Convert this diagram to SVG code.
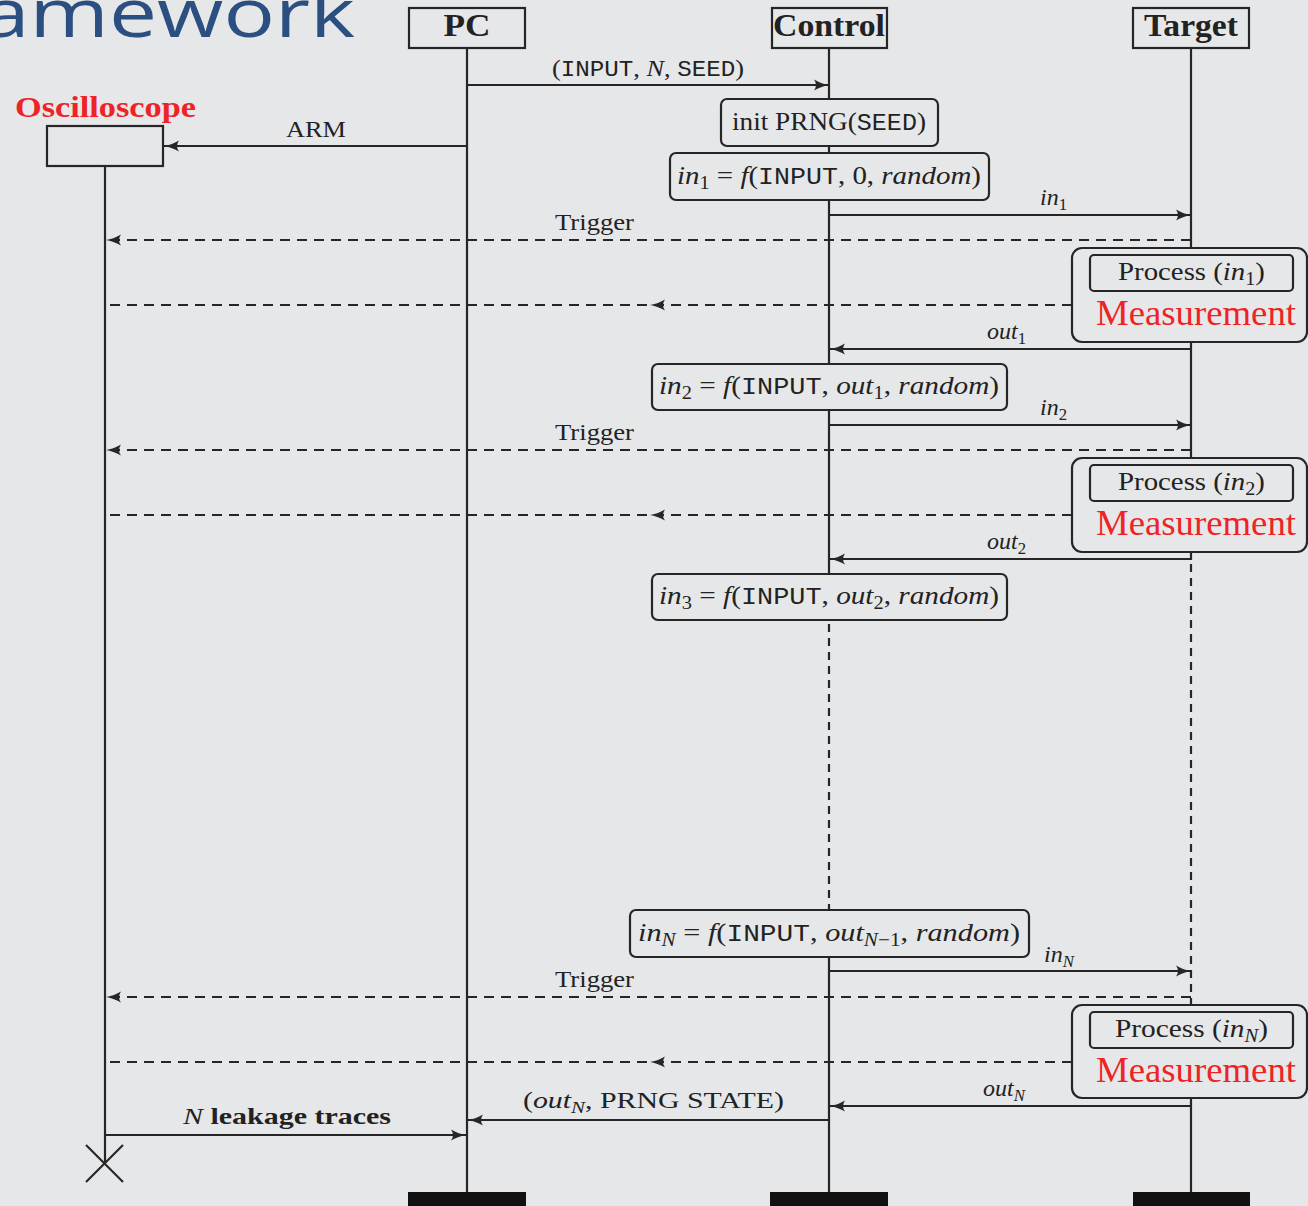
<svg xmlns="http://www.w3.org/2000/svg" width="1308" height="1206" viewBox="0 0 1308 1206">
<style>
.bg{fill:#e6e7e9}
.ln{stroke:#262626;stroke-width:2.2;fill:none}
.dl{stroke:#262626;stroke-width:2.2;fill:none;stroke-dasharray:10,7}
.dv{stroke:#262626;stroke-width:2.2;fill:none;stroke-dasharray:8,6}
.box{fill:#e6e7e9;stroke:#262626;stroke-width:2.2}
.t{font-family:"Liberation Serif","DejaVu Serif",serif;font-size:26px;fill:#222}
.lb{font-family:"Liberation Serif","DejaVu Serif",serif;font-size:24px;fill:#222}
.hd{font-family:"Liberation Serif","DejaVu Serif",serif;font-size:31px;font-weight:bold;fill:#222}
.ms{font-family:"Liberation Serif","DejaVu Serif",serif;font-size:35px;fill:#ee2326}
.osc{font-family:"Liberation Serif","DejaVu Serif",serif;font-size:30px;font-weight:bold;fill:#ee2326}
.b{font-weight:bold}
.i{font-style:italic}
.m{font-family:"Liberation Mono","DejaVu Sans Mono",monospace;font-size:0.92em}
.s{font-size:0.7em}
.title{font-family:"Open Sans","Noto Sans",sans-serif;font-size:68px;fill:#2a4f80}
</style>
<defs>
<marker id="ah" markerWidth="16" markerHeight="12" refX="15" refY="6" orient="auto" markerUnits="userSpaceOnUse">
<path d="M0,0.5 Q8,5 15,6 Q8,7 0,11.5 Q4,6 0,0.5z" fill="#262626"/>
</marker>
</defs>
<rect class="bg" x="0" y="0" width="1308" height="1206"/>
<text class="title" x="-18" y="37" textLength="373" lengthAdjust="spacingAndGlyphs">amework</text>

<g id="lifelines">
<line class="ln" x1="105" y1="166" x2="105" y2="1163"/>
<line class="ln" x1="467" y1="48" x2="467" y2="1192"/>
<line class="ln" x1="829" y1="48" x2="829" y2="620"/>
<line class="dv" x1="829" y1="624" x2="829" y2="910"/>
<line class="ln" x1="829" y1="957" x2="829" y2="1192"/>
<line class="ln" x1="1191" y1="48" x2="1191" y2="560"/>
<line class="dv" x1="1191" y1="564" x2="1191" y2="1005"/>
<line class="ln" x1="1191" y1="1098" x2="1191" y2="1192"/>
</g>

<g id="connectors">
<line class="ln" x1="467" y1="85" x2="829" y2="85" marker-end="url(#ah)"/>
<line class="ln" x1="467" y1="146" x2="164" y2="146" marker-end="url(#ah)"/>
<line class="ln" x1="829" y1="215" x2="1191" y2="215" marker-end="url(#ah)"/>
<line class="dl" x1="1191" y1="240" x2="106" y2="240" marker-end="url(#ah)"/>
<path class="dl" d="M1072,305 L650,305 L105,305" marker-mid="url(#ah)"/>
<line class="ln" x1="1191" y1="349" x2="830" y2="349" marker-end="url(#ah)"/>
<line class="ln" x1="829" y1="425" x2="1191" y2="425" marker-end="url(#ah)"/>
<line class="dl" x1="1191" y1="450" x2="106" y2="450" marker-end="url(#ah)"/>
<path class="dl" d="M1072,515 L650,515 L105,515" marker-mid="url(#ah)"/>
<line class="ln" x1="1191" y1="559" x2="830" y2="559" marker-end="url(#ah)"/>
<line class="ln" x1="829" y1="971" x2="1191" y2="971" marker-end="url(#ah)"/>
<line class="dl" x1="1191" y1="997" x2="106" y2="997" marker-end="url(#ah)"/>
<path class="dl" d="M1072,1062 L650,1062 L105,1062" marker-mid="url(#ah)"/>
<line class="ln" x1="1191" y1="1106" x2="830" y2="1106" marker-end="url(#ah)"/>
<line class="ln" x1="829" y1="1120" x2="468" y2="1120" marker-end="url(#ah)"/>
<line class="ln" x1="105" y1="1135" x2="466" y2="1135" marker-end="url(#ah)"/>
</g>

<g id="connector-labels">
<text class="lb" x="552" y="76" textLength="192" lengthAdjust="spacingAndGlyphs">(<tspan class="m">INPUT</tspan>, <tspan class="i">N</tspan>, <tspan class="m">SEED</tspan>)</text>
<text class="lb" x="286" y="137" textLength="60" lengthAdjust="spacingAndGlyphs">ARM</text>
<text class="lb" x="1040" y="205"><tspan class="i">in</tspan><tspan class="s" dy="5">1</tspan></text>
<text class="lb" x="555" y="230" textLength="79" lengthAdjust="spacingAndGlyphs">Trigger</text>
<text class="lb" x="987" y="339"><tspan class="i">out</tspan><tspan class="s" dy="5">1</tspan></text>
<text class="lb" x="1040" y="415"><tspan class="i">in</tspan><tspan class="s" dy="5">2</tspan></text>
<text class="lb" x="555" y="440" textLength="79" lengthAdjust="spacingAndGlyphs">Trigger</text>
<text class="lb" x="987" y="549"><tspan class="i">out</tspan><tspan class="s" dy="5">2</tspan></text>
<text class="lb" x="1044" y="962"><tspan class="i">in</tspan><tspan class="s i" dy="5">N</tspan></text>
<text class="lb" x="555" y="987" textLength="79" lengthAdjust="spacingAndGlyphs">Trigger</text>
<text class="lb" x="983" y="1096"><tspan class="i">out</tspan><tspan class="s i" dy="5">N</tspan></text>
<text class="lb" x="523" y="1108" textLength="261" lengthAdjust="spacingAndGlyphs">(<tspan class="i">out</tspan><tspan class="s i" dy="5">N</tspan><tspan dy="-5">,  PRNG STATE)</tspan></text>
<text class="lb b" x="183" y="1124" textLength="208" lengthAdjust="spacingAndGlyphs"><tspan class="i" font-weight="normal">N</tspan> leakage traces</text>
</g>

<g id="osc">
<text class="osc" x="15" y="117" textLength="181" lengthAdjust="spacingAndGlyphs">Oscilloscope</text>
<rect class="box" x="47" y="126" width="116" height="40"/>
<line class="ln" x1="86" y1="1145" x2="123" y2="1182"/>
<line class="ln" x1="123" y1="1145" x2="86" y2="1182"/>
</g>

<g id="pc">
<rect class="box" x="409" y="8" width="116" height="40"/>
<text class="hd" x="467" y="36" text-anchor="middle" textLength="47" lengthAdjust="spacingAndGlyphs">PC</text>
<rect x="408" y="1192" width="118" height="14" fill="#111"/>
</g>

<g id="control">
<rect class="box" x="772" y="8" width="115" height="40"/>
<text class="hd" x="829" y="36" text-anchor="middle" textLength="112" lengthAdjust="spacingAndGlyphs">Control</text>
<rect x="770" y="1192" width="118" height="14" fill="#111"/>
</g>

<g id="target">
<rect class="box" x="1133" y="8" width="116" height="40"/>
<text class="hd" x="1191" y="36" text-anchor="middle" textLength="94" lengthAdjust="spacingAndGlyphs">Target</text>
<rect x="1133" y="1192" width="117" height="14" fill="#111"/>
</g>

<g id="init-prng">
<rect class="box" x="721" y="99" width="217" height="47" rx="6"/>
<text class="t" x="732" y="130" textLength="194" lengthAdjust="spacingAndGlyphs">init PRNG(<tspan class="m">SEED</tspan>)</text>
</g>

<g id="in1-calc">
<rect class="box" x="670" y="153" width="319" height="47" rx="6"/>
<text class="t" x="677" y="184" textLength="304" lengthAdjust="spacingAndGlyphs"><tspan class="i">in</tspan><tspan class="s" dy="5">1</tspan><tspan dy="-5"> = </tspan><tspan class="i">f</tspan>(<tspan class="m">INPUT</tspan>, 0, <tspan class="i">random</tspan>)</text>
</g>

<g id="meas1">
<rect class="box" x="1072" y="248" width="235" height="94" rx="10"/>
<rect class="box" x="1090" y="255" width="203" height="36" rx="4"/>
<text class="t" x="1118" y="280" textLength="147" lengthAdjust="spacingAndGlyphs">Process (<tspan class="i">in</tspan><tspan class="s" dy="5">1</tspan><tspan dy="-5">)</tspan></text>
<text class="ms" x="1096" y="325" textLength="200" lengthAdjust="spacingAndGlyphs">Measurement</text>
</g>

<g id="in2-calc">
<rect class="box" x="652" y="364" width="355" height="46" rx="6"/>
<text class="t" x="659" y="394" textLength="340" lengthAdjust="spacingAndGlyphs"><tspan class="i">in</tspan><tspan class="s" dy="5">2</tspan><tspan dy="-5"> = </tspan><tspan class="i">f</tspan>(<tspan class="m">INPUT</tspan>, <tspan class="i">out</tspan><tspan class="s" dy="5">1</tspan><tspan dy="-5">, </tspan><tspan class="i">random</tspan>)</text>
</g>

<g id="meas2">
<rect class="box" x="1072" y="458" width="235" height="94" rx="10"/>
<rect class="box" x="1090" y="465" width="203" height="36" rx="4"/>
<text class="t" x="1118" y="490" textLength="147" lengthAdjust="spacingAndGlyphs">Process (<tspan class="i">in</tspan><tspan class="s" dy="5">2</tspan><tspan dy="-5">)</tspan></text>
<text class="ms" x="1096" y="535" textLength="200" lengthAdjust="spacingAndGlyphs">Measurement</text>
</g>

<g id="in3-calc">
<rect class="box" x="652" y="574" width="355" height="46" rx="6"/>
<text class="t" x="659" y="604" textLength="340" lengthAdjust="spacingAndGlyphs"><tspan class="i">in</tspan><tspan class="s" dy="5">3</tspan><tspan dy="-5"> = </tspan><tspan class="i">f</tspan>(<tspan class="m">INPUT</tspan>, <tspan class="i">out</tspan><tspan class="s" dy="5">2</tspan><tspan dy="-5">, </tspan><tspan class="i">random</tspan>)</text>
</g>

<g id="inN-calc">
<rect class="box" x="630" y="910" width="399" height="47" rx="6"/>
<text class="t" x="638" y="941" textLength="382" lengthAdjust="spacingAndGlyphs"><tspan class="i">in</tspan><tspan class="s i" dy="5">N</tspan><tspan dy="-5"> = </tspan><tspan class="i">f</tspan>(<tspan class="m">INPUT</tspan>, <tspan class="i">out</tspan><tspan class="s" dy="5"><tspan class="i">N</tspan>−1</tspan><tspan dy="-5">, </tspan><tspan class="i">random</tspan>)</text>
</g>

<g id="measN">
<rect class="box" x="1072" y="1005" width="235" height="93" rx="10"/>
<rect class="box" x="1090" y="1012" width="203" height="36" rx="4"/>
<text class="t" x="1115" y="1037" textLength="153" lengthAdjust="spacingAndGlyphs">Process (<tspan class="i">in</tspan><tspan class="s i" dy="5">N</tspan><tspan dy="-5">)</tspan></text>
<text class="ms" x="1096" y="1082" textLength="200" lengthAdjust="spacingAndGlyphs">Measurement</text>
</g>
</svg>
